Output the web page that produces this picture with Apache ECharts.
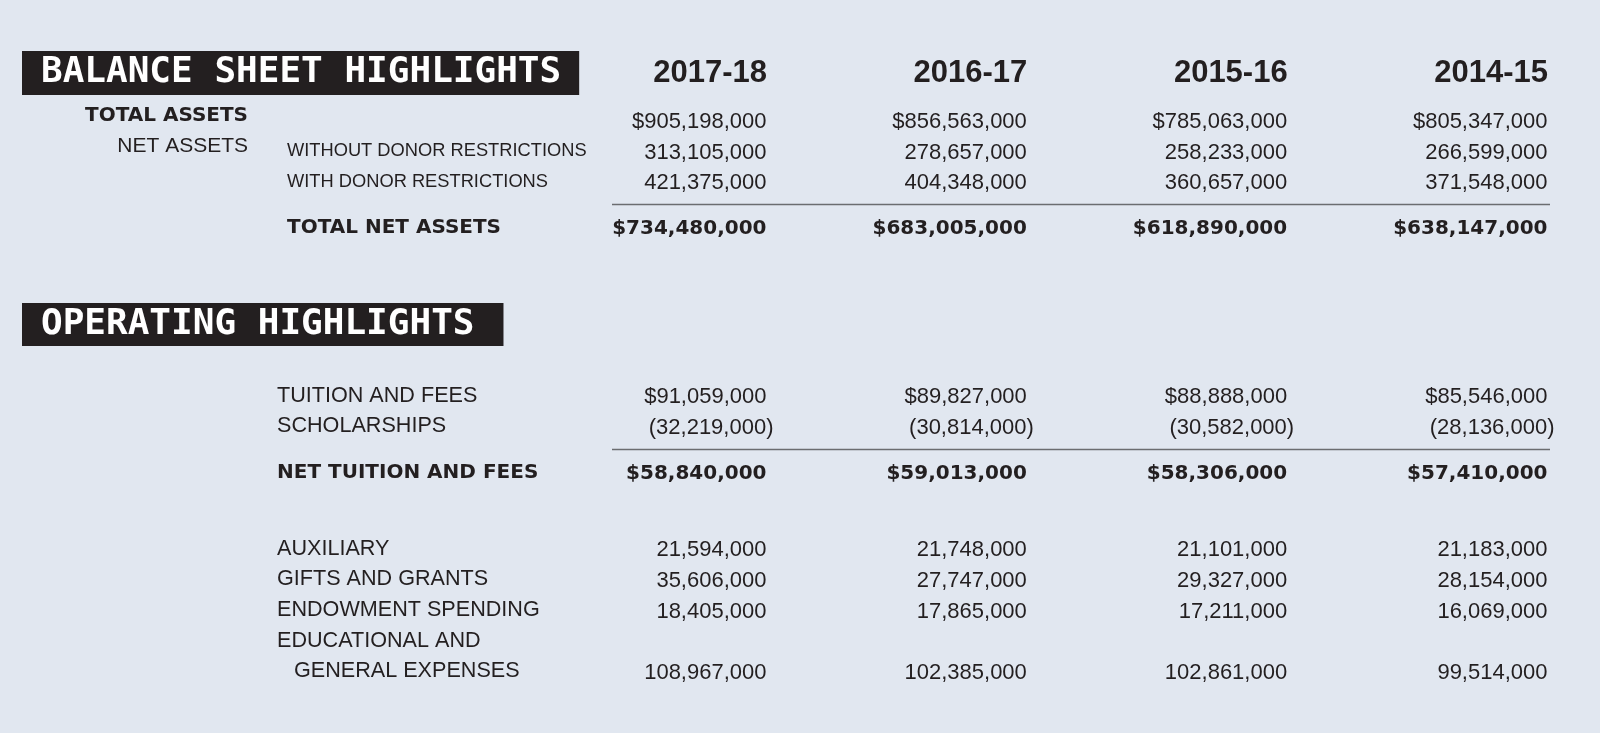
<!DOCTYPE html>
<html><head><meta charset="utf-8">
<script src="https://cdn.jsdelivr.net/npm/echarts@6/dist/echarts.min.js"></script>
<style>html,body{margin:0;padding:0;background:#e1e7f0}#c{width:1600px;height:733px}</style>
</head><body><div id="c"></div>
<script>
// ---------- data ----------
const years = ['2017-18', '2016-17', '2015-16', '2014-15'];
const bsGroupLabels = ['TOTAL ASSETS', 'NET ASSETS', '', ''];
const bsItemLabels = ['', 'WITHOUT DONOR RESTRICTIONS', 'WITH DONOR RESTRICTIONS', 'TOTAL NET ASSETS'];
const opLabels = ['TUITION AND FEES', 'SCHOLARSHIPS', 'NET TUITION AND FEES', 'AUXILIARY',
  'GIFTS AND GRANTS', 'ENDOWMENT SPENDING', 'EDUCATIONAL AND\nGENERAL EXPENSES'];
const fy1718 = [905198000, 313105000, 421375000, 734480000, 91059000, -32219000, 58840000, 21594000, 35606000, 18405000, 108967000];
const fy1617 = [856563000, 278657000, 404348000, 683005000, 89827000, -30814000, 59013000, 21748000, 27747000, 17865000, 102385000];
const fy1516 = [785063000, 258233000, 360657000, 618890000, 88888000, -30582000, 58306000, 21101000, 29327000, 17211000, 102861000];
const fy1415 = [805347000, 266599000, 371548000, 638147000, 85546000, -28136000, 57410000, 21183000, 28154000, 16069000, 99514000];
const columns = [fy1718, fy1617, fy1516, fy1415];

// ---------- layout ----------
const rowSlot = [0, 2, 4, 7, 18, 20, 23, 28, 30, 32, 36];
const dollarRows = [0, 3, 4, 6];
const boldRows = [3, 6];
const ruleAfter = [2, 5];
const NSLOT = 37, PITCH = 15.3, TOP = 122;
const INK = '#231f20', BG = '#e1e7f0';

const slotKeys = Array.from({length: NSLOT}, (_, i) => String(i));
const groupText = Array(NSLOT).fill('');
const itemText = Array(NSLOT).fill('');
const opText = Array(NSLOT).fill('');
bsGroupLabels.forEach((t, i) => { if (t) groupText[rowSlot[i]] = i === 0 ? '{b|' + t + '}' : t; });
bsItemLabels.forEach((t, i) => { if (t) itemText[rowSlot[i]] = boldRows.includes(i) ? '{b|' + t + '}' : t; });
opLabels.forEach((t, j) => {
  const i = j + bsItemLabels.length;
  const s = rowSlot[i];
  const lines = t.split('\n');
  if (lines.length === 2) { opText[s - 2] = lines[0]; opText[s] = '{ind|' + lines[1] + '}'; }
  else opText[s] = boldRows.includes(i) ? '{b|' + t + '}' : t;
});

function fmt(v, i) {
  const s = Math.abs(v).toLocaleString('en-US');
  const d = dollarRows.includes(i) ? '$' : '';
  return v < 0 ? '(' + d + s + ')' : d + s;
}

const boldRich = {fontFamily: 'DejaVu Sans', fontWeight: 'bold', fontSize: 20, color: INK};
function yAx(offset, align, texts, font, size, pad) {
  return {
    type: 'category', data: slotKeys, inverse: true, boundaryGap: false, position: 'left', offset,
    axisLine: {show: false}, axisTick: {show: false}, splitLine: {show: false},
    axisLabel: {
      interval: 0, margin: 0, align, color: INK, fontFamily: font, fontSize: size, padding: pad,
      formatter: (v, idx) => texts[idx],
      rich: {b: boldRich, ind: {padding: [0, 0, 0, 17], fontFamily: font, fontSize: size, color: INK}}
    }
  };
}

const titleStyle = {color: '#ffffff', fontFamily: 'DejaVu Sans Mono', fontWeight: 'bold', fontSize: 36, lineHeight: 36};

const option = {
  backgroundColor: BG,
  animation: false,
  title: [
    {text: 'BALANCE SHEET HIGHLIGHTS', left: 22, top: 51, backgroundColor: INK, padding: [4, 18, 4, 19], textStyle: titleStyle},
    {text: 'OPERATING HIGHLIGHTS', left: 22, top: 303, backgroundColor: INK, padding: [4, 29, 3, 19], textStyle: titleStyle}
  ],
  grid: {left: 767, right: 52, top: TOP, bottom: 733 - TOP - (NSLOT - 1) * PITCH},
  xAxis: {
    type: 'category', data: years, position: 'top', boundaryGap: false,
    axisLine: {show: false}, axisTick: {show: false}, splitLine: {show: false},
    axisLabel: {interval: 0, align: 'right', margin: 33, color: INK, fontFamily: 'Liberation Sans', fontWeight: 'bold', fontSize: 31, lineHeight: 31}
  },
  yAxis: [
    yAx(519, 'right', groupText, 'Liberation Sans', 21, [0, 0, 12, 0]),
    yAx(480, 'left', itemText, 'Liberation Sans', 18.3, [0, 0, 3, 0]),
    yAx(490, 'left', opText, 'Liberation Sans', 21.6, [0, 0, 3, 0])
  ],
  series: columns.map((arr, c) => ({
    type: 'scatter', xAxisIndex: 0, yAxisIndex: 0, symbolSize: 1, silent: true,
    itemStyle: {color: 'rgba(0,0,0,0)', opacity: 1},
    label: {show: true, position: 'left', distance: 0, color: INK, fontFamily: 'Liberation Sans', fontSize: 22,
      formatter: p => fmt(p.value[2], p.value[3])},
    data: arr.map((v, i) => ({
      value: [c, rowSlot[i], v, i],
      label: Object.assign({offset: v < 0 ? [7, 0] : [0, 0]},
        boldRows.includes(i) ? {fontFamily: 'DejaVu Sans', fontWeight: 'bold', fontSize: 20} : {})
    }))
  })).concat([{
    type: 'custom', silent: true, xAxisIndex: 0, yAxisIndex: 0,
    encode: {x: [0, 2], y: [1, 3]},
    data: ruleAfter.map(i => [0, rowSlot[i], years.length - 1, rowSlot[i + 1]]),
    renderItem: (params, api) => {
      const a = api.coord([api.value(0), api.value(1)]);
      const b = api.coord([api.value(2), api.value(3)]);
      const y = Math.round(a[1] + (b[1] - a[1]) * 0.45) + 0.5;
      return {type: 'line', shape: {x1: a[0] - 155, y1: y, x2: b[0] + 2, y2: y}, style: {stroke: '#6b6d70', lineWidth: 1.3}};
    }
  }])
};
echarts.init(document.getElementById('c')).setOption(option);
</script></body></html>
